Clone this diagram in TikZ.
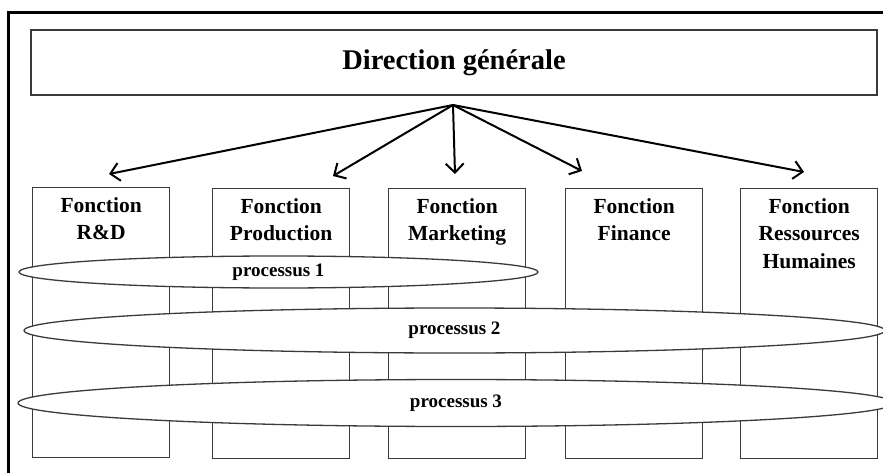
\documentclass[tikz,border=0pt]{standalone}
\usepackage{fontspec}
\setmainfont{Liberation Serif}
\usetikzlibrary{shapes.geometric, arrows.meta, positioning}
\definecolor{boxgray}{HTML}{3a3a3a}

\begin{document}
\begin{tikzpicture}[
    x=1pt, y=-1pt,
    fbox/.style={draw=boxgray, line width=1.3pt, minimum width=137pt, minimum height=270pt, inner sep=0pt, anchor=north west},
    ftext/.style={font=\fontsize{21.5}{27.5}\selectfont\bfseries, align=center, inner sep=0pt},
    proc/.style={ellipse, draw=boxgray, line width=1.3pt, fill=white, inner sep=0pt, font=\fontsize{19}{22}\selectfont\bfseries},
    every edge/.style={draw, -{Straight Barb[length=9pt, width=18pt]}, line width=2pt}
]
    \useasboundingbox (0,0) rectangle (883,473);

    % Frame
    \draw[line width=3pt] (8,473) -- (8,13) -- (883,13);

    % Direction
    \node[draw=boxgray, line width=1.3pt, minimum width=846pt, minimum height=65pt, font=\fontsize{28.5}{34}\selectfont\bfseries] (dg) at (454,62.5) {Direction générale};

    % Function boxes
    \node[fbox] (rd) at (32,187) {};
    \node[fbox] (prod) at (212,188) {};
    \node[fbox] (mkt) at (388,188) {};
    \node[fbox] (fin) at (565,188) {};
    \node[fbox] (rh) at (740,188) {};

    \node[ftext, below=10pt of rd.north] (rdtxt) {Fonction\\R\&D};
    \node[ftext, below=10pt of prod.north] (prodtxt) {Fonction\\Production};
    \node[ftext, below=10pt of mkt.north] (mkttxt) {Fonction\\Marketing};
    \node[ftext, below=10pt of fin.north] (fintxt) {Fonction\\Finance};
    \node[ftext, below=10pt of rh.north] (rhtxt) {Fonction\\Ressources\\Humaines};

    % Processes
    \node[proc, minimum width=519pt, minimum height=32pt] (p1) at (278.5,272) {processus 1};
    \node[proc, minimum width=861pt, minimum height=45pt] (p2) at (454.5,330.5) {processus 2};
    \node[proc, minimum width=876pt, minimum height=47pt] (p3) at (456,403) {processus 3};

    % Arrows
    \coordinate (hub) at (453,105);
    \coordinate (trd) at (109,174);
    \coordinate (tprod) at (333,176);
    \coordinate (tmkt) at (455,174);
    \coordinate (tfin) at (582,171);
    \coordinate (trh) at (804,172);
    \draw (hub) edge (trd) edge (tprod) edge (tmkt) edge (tfin) edge (trh);
\end{tikzpicture}
\end{document}
